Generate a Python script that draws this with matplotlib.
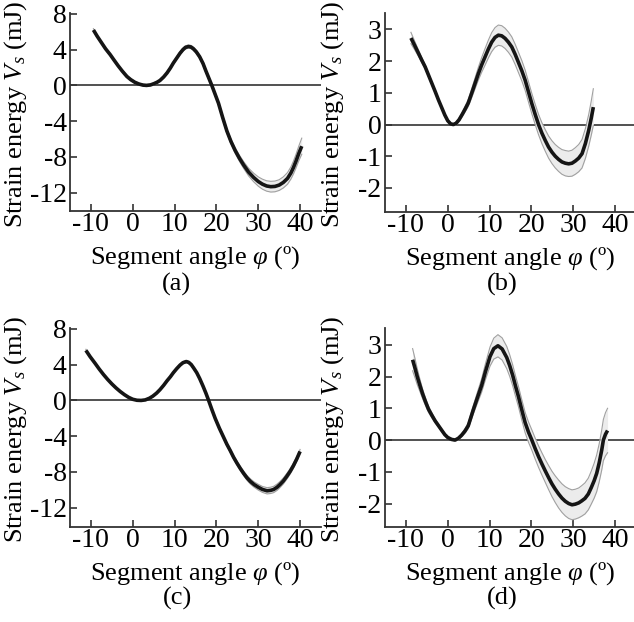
import matplotlib
matplotlib.use("Agg")
import matplotlib.pyplot as plt
import numpy as np

plt.rcParams['font.family'] = ['Liberation Serif', 'DejaVu Serif']
plt.rcParams['mathtext.fontset'] = 'custom'
plt.rcParams['mathtext.rm'] = 'Liberation Serif'
plt.rcParams['mathtext.it'] = 'Liberation Serif:italic'
plt.rcParams['axes.unicode_minus'] = False

# ---------------- data ----------------
phi_a = [-9.4, -8.5, -7.5, -6.5, -5.4, -4.5, -3.5, -2.5, -1.4, -0.5,
         0.5, 1.5, 2.5, 3.3, 4.2, 5.0, 5.8, 6.5, 7.4, 8.2,
         9.0, 9.7, 10.5, 11.3, 12.0, 12.6, 13.3, 13.9, 14.5, 15.2,
         16.0, 16.8, 17.5, 18.2, 18.9, 19.7, 20.5, 21.5, 22.5, 23.5,
         24.5, 25.5, 26.5, 27.7, 28.9, 30.0, 31.0, 32.0, 33.0, 34.0,
         35.0, 36.0, 37.0, 37.8, 38.4, 39.0, 39.7, 40.4]
mean_a = [6.2, 5.5, 4.8, 4.1, 3.45, 2.85, 2.2, 1.6, 1.0, 0.65,
          0.35, 0.15, 0.03, 0.0, 0.05, 0.18, 0.35, 0.55, 0.95, 1.4,
          1.95, 2.5, 3.05, 3.6, 4.0, 4.25, 4.35, 4.3, 4.1, 3.75,
          3.2, 2.45, 1.6, 0.8, 0.0, -1.0, -2.0, -3.6, -5.1, -6.3,
          -7.3, -8.15, -8.9, -9.7, -10.3, -10.75, -11.05, -11.25, -11.33, -11.3,
          -11.15, -10.85, -10.4, -9.8, -9.2, -8.5, -7.6, -6.8]
sd_a = [0.15, 0.14, 0.12, 0.11, 0.1, 0.1, 0.1, 0.1, 0.1, 0.1,
        0.1, 0.1, 0.1, 0.1, 0.1, 0.1, 0.1, 0.1, 0.11, 0.12,
        0.13, 0.14, 0.15, 0.16, 0.17, 0.18, 0.18, 0.18, 0.18, 0.18,
        0.18, 0.18, 0.18, 0.18, 0.18, 0.18, 0.2, 0.22, 0.24, 0.27,
        0.3, 0.34, 0.38, 0.43, 0.48, 0.52, 0.56, 0.58, 0.6, 0.6,
        0.6, 0.62, 0.65, 0.68, 0.72, 0.76, 0.82, 0.9]

phi_b = [-8.8, -8.0, -7.0, -6.2, -5.4, -4.6, -3.8, -3.0, -2.2, -1.4,
         -0.7, 0.0, 0.7, 1.35, 2.0, 2.7, 3.5, 4.2, 4.9, 5.7,
         6.5, 7.3, 8.1, 8.9, 9.7, 10.5, 11.3, 12.1, 12.9, 13.7,
         14.5, 15.3, 16.1, 16.9, 17.7, 18.5, 19.3, 20.1, 20.9, 21.7,
         22.5, 23.3, 24.1, 24.9, 25.7, 26.5, 27.3, 28.1, 28.9, 29.7,
         30.5, 31.3, 32.1, 32.9, 33.7, 34.3, 34.8]
mean_b = [2.73, 2.52, 2.25, 2.03, 1.82, 1.56, 1.3, 1.04, 0.77, 0.52,
          0.3, 0.12, 0.02, 0.0, 0.04, 0.15, 0.33, 0.5, 0.68, 0.98,
          1.29, 1.6, 1.88, 2.13, 2.38, 2.6, 2.75, 2.82, 2.8, 2.72,
          2.6, 2.45, 2.22, 1.96, 1.7, 1.4, 1.03, 0.66, 0.32, 0.0,
          -0.27, -0.5, -0.71, -0.87, -1.0, -1.1, -1.18, -1.22, -1.24, -1.22,
          -1.15, -1.06, -0.92, -0.6, -0.18, 0.2, 0.55]
sd_b = [0.18, 0.14, 0.1, 0.08, 0.06, 0.05, 0.04, 0.04, 0.03, 0.03,
        0.03, 0.03, 0.03, 0.03, 0.04, 0.05, 0.07, 0.09, 0.11, 0.14,
        0.17, 0.2, 0.23, 0.26, 0.28, 0.3, 0.31, 0.32, 0.32, 0.32,
        0.32, 0.32, 0.32, 0.32, 0.32, 0.32, 0.32, 0.32, 0.32, 0.32,
        0.33, 0.34, 0.35, 0.36, 0.37, 0.38, 0.39, 0.4, 0.4, 0.41,
        0.42, 0.43, 0.45, 0.47, 0.5, 0.54, 0.58]

phi_c = [-11.2, -10.2, -9.0, -8.0, -7.0, -6.0, -5.0, -4.0, -3.0, -2.0,
         -1.0, 0.0, 1.0, 2.0, 3.0, 4.0, 4.8, 5.7, 6.5, 7.4,
         8.2, 9.0, 9.7, 10.5, 11.3, 12.0, 12.8, 13.4, 14.0, 14.6,
         15.3, 16.0, 16.8, 17.5, 18.1, 18.9, 19.7, 20.7, 21.7, 22.5,
         23.3, 24.1, 24.9, 25.7, 26.5, 27.3, 28.1, 29.0, 30.0, 31.0,
         32.1, 33.0, 33.7, 34.5, 35.2, 36.0, 36.8, 37.6, 38.4, 39.2,
         40.0]
mean_c = [5.6, 4.9, 4.15, 3.5, 2.9, 2.35, 1.85, 1.4, 1.0, 0.65,
          0.35, 0.13, 0.02, 0.0, 0.06, 0.25, 0.48, 0.82, 1.2, 1.7,
          2.2, 2.65, 3.1, 3.55, 3.95, 4.22, 4.35, 4.25, 4.0, 3.6,
          3.1, 2.45, 1.6, 0.8, 0.05, -1.0, -2.0, -3.1, -4.1, -4.9,
          -5.6, -6.35, -7.0, -7.6, -8.15, -8.65, -9.05, -9.4, -9.7, -9.95,
          -10.1, -10.05, -9.95, -9.7, -9.4, -9.0, -8.5, -7.95, -7.3, -6.55,
          -5.7]
sd_c = [0.12, 0.1, 0.08, 0.07, 0.06, 0.06, 0.05, 0.05, 0.05, 0.05,
        0.05, 0.05, 0.05, 0.05, 0.05, 0.05, 0.05, 0.06, 0.06, 0.07,
        0.08, 0.09, 0.1, 0.11, 0.12, 0.12, 0.12, 0.12, 0.12, 0.12,
        0.12, 0.12, 0.12, 0.12, 0.12, 0.13, 0.14, 0.15, 0.17, 0.18,
        0.2, 0.21, 0.22, 0.24, 0.25, 0.27, 0.29, 0.3, 0.32, 0.33,
        0.35, 0.35, 0.35, 0.35, 0.34, 0.33, 0.32, 0.3, 0.28, 0.25,
        0.22]

phi_d = [-8.4, -7.8, -7.3, -6.6, -6.0, -5.3, -4.6, -3.8, -3.0, -2.2,
         -1.4, -0.7, 0.0, 0.9, 1.75, 2.5, 3.3, 4.1, 4.9, 5.5,
         6.1, 7.0, 8.1, 9.0, 10.1, 11.0, 12.0, 13.0, 14.1, 14.8,
         15.5, 16.2, 16.9, 17.7, 18.5, 19.3, 20.1, 20.9, 21.7, 22.5,
         23.3, 24.1, 24.9, 25.7, 26.5, 27.3, 28.1, 28.9, 29.7, 30.5,
         31.3, 32.0, 32.8, 33.6, 34.3, 35.0, 35.6, 36.2, 36.8, 37.2,
         37.7, 38.2]
mean_d = [2.53, 2.25, 2.0, 1.7, 1.45, 1.2, 0.97, 0.78, 0.6, 0.45,
          0.3, 0.17, 0.08, 0.02, 0.0, 0.05, 0.15, 0.28, 0.45, 0.7,
          0.95, 1.3, 1.72, 2.15, 2.63, 2.88, 2.97, 2.87, 2.6, 2.35,
          2.05, 1.7, 1.37, 0.95, 0.55, 0.25, 0.0, -0.27, -0.52, -0.75,
          -0.97, -1.18, -1.38, -1.55, -1.7, -1.83, -1.93, -2.0, -2.04, -2.02,
          -1.98, -1.92, -1.84, -1.7, -1.5, -1.28, -1.05, -0.72, -0.32, 0.0,
          0.18, 0.3]
sd_d = [0.35, 0.3, 0.25, 0.19, 0.15, 0.12, 0.1, 0.08, 0.06, 0.05,
        0.04, 0.03, 0.03, 0.03, 0.03, 0.04, 0.05, 0.07, 0.09, 0.11,
        0.13, 0.17, 0.21, 0.25, 0.3, 0.33, 0.35, 0.35, 0.35, 0.34,
        0.33, 0.32, 0.32, 0.32, 0.32, 0.32, 0.32, 0.33, 0.34, 0.35,
        0.36, 0.38, 0.4, 0.42, 0.44, 0.45, 0.46, 0.47, 0.47, 0.47,
        0.47, 0.48, 0.49, 0.5, 0.52, 0.55, 0.58, 0.6, 0.63, 0.65,
        0.68, 0.7]

panel_labels = ["(a)", "(b)", "(c)", "(d)"]
yticks_big = [-12, -8, -4, 0, 4, 8]
yticks_small = [-2, -1, 0, 1, 2, 3]
x_ticks = [-10, 0, 10, 20, 30, 40]
x_label = r'Segment angle $\varphi$ (º)'
y_label = r'Strain energy $V_s$ (mJ)'

panels = [
    (phi_a, mean_a, sd_a, (-14.05, 8.1), yticks_big),
    (phi_b, mean_b, sd_b, (-2.76, 3.52), yticks_small),
    (phi_c, mean_c, sd_c, (-14.15, 8.1), yticks_big),
    (phi_d, mean_d, sd_d, (-2.74, 3.53), yticks_small),
]
x_lim = (-15, 45)

W, H = 634, 622
fig = plt.figure(figsize=(W / 100, H / 100), dpi=100)

# axes rects in pixels: left, top, width, height
rects = [(70, 13, 251, 198), (385, 13, 251, 199), (70, 328, 251, 199), (385, 328, 251, 199)]
label_pos = [(176, 284), (502, 284), (177, 598), (502, 598)]
ylab_x = [-0.163, -0.155, -0.163, -0.155]

for i, ((phi, m, sd, ylim, yt), (l, t, w, h), (lx, ly)) in enumerate(zip(panels, rects, label_pos)):
    ax = fig.add_axes([l / W, 1 - (t + h) / H, w / W, h / H])
    phi = np.asarray(phi); m = np.asarray(m); sd = np.asarray(sd)
    ax.axhline(0, color='#333333', lw=1.2, zorder=1)
    ax.fill_between(phi, m - sd, m + sd, color='#ececec', lw=0, zorder=2)
    ax.plot(phi, m + sd, color='#a0a0a0', lw=0.8, zorder=3)
    ax.plot(phi, m - sd, color='#a0a0a0', lw=0.8, zorder=3)
    ax.plot(phi, m, color='#151515', lw=2.6, zorder=4, solid_capstyle='butt', solid_joinstyle='round')
    ax.set_xlim(*x_lim)
    ax.set_ylim(*ylim)
    ax.set_xticks(x_ticks)
    ax.set_yticks(yt)
    ax.set_yticklabels([str(v) for v in yt])
    ax.set_xticklabels([str(v) for v in x_ticks])
    for s in ['top', 'right']:
        ax.spines[s].set_visible(False)
    for s in ['left', 'bottom']:
        ax.spines[s].set_linewidth(1.3)
        ax.spines[s].set_color('#333333')
    ax.tick_params(direction='in', length=5, width=1.2, color='#333333', labelsize=20)
    ax.tick_params(axis='x', pad=0.5)
    ax.tick_params(axis='y', pad=2.5)
    ax.set_xlabel(x_label, fontsize=19)
    ax.set_ylabel(y_label, fontsize=19)
    ax.xaxis.set_label_coords(0.5, -0.165)
    ax.yaxis.set_label_coords(ylab_x[i], 0.49)
    fig.text(lx / W, 1 - ly / H, panel_labels[i], fontsize=19, ha='center', va='center')

fig.savefig('out.png', dpi=100)
